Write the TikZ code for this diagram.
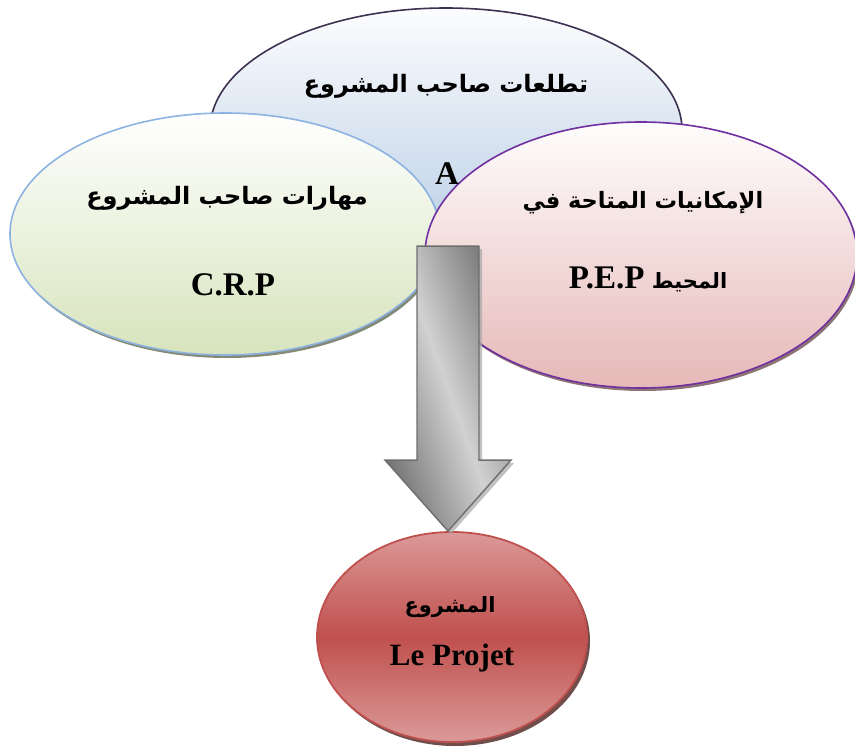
\documentclass[tikz,border=0pt]{standalone}
\usepackage{fontspec}
\setmainfont{Liberation Serif}
\newfontfamily\arabicfont[Script=Arabic]{DejaVu Sans}
\TeXXeTstate=1
\usetikzlibrary{shapes.geometric,shadows,calc}
\definecolor{topline}{HTML}{3F3151}
\definecolor{topfill}{HTML}{B9CDE5}
\definecolor{greenline}{HTML}{8DB3E2}
\definecolor{greenfill}{HTML}{D7E4BD}
\definecolor{pinkline}{HTML}{7030A0}
\definecolor{pinkfill}{HTML}{E6B9B8}
\definecolor{redline}{HTML}{C0504D}
\definecolor{redlight}{HTML}{DA9A99}
\definecolor{arrline}{HTML}{6E6E6E}
\tikzset{
  oval/.style={ellipse, inner sep=0pt, line width=1.6pt},
  artext/.style={font=\arabicfont\bfseries\fontsize{24}{28}\selectfont, inner sep=0pt},
  latext/.style={font=\bfseries\fontsize{33}{38}\selectfont, inner sep=0pt},
  arrowbox/.style={draw=arrline, line width=1.4pt,
    left color=black!55, right color=black!55, middle color=black!18, shading angle=-70,
    drop shadow={shadow xshift=3pt, shadow yshift=-3pt, fill=black!35, opacity=0.7}},
  redshade/.style={top color=redlight, bottom color=redlight, middle color=redline}
}
\begin{document}
\begin{tikzpicture}[x=1pt,y=-1pt]
\useasboundingbox (0,0) rectangle (855,747);
% top ellipse
\node[oval, draw=topline, minimum width=472pt, minimum height=244pt, top color=white!96!topfill, bottom color=topfill] (aspir) at (446,130) {};
% left ellipse
\node[oval, draw=greenline, minimum width=430pt, minimum height=242pt, top color=white, bottom color=greenfill,
  drop shadow={shadow xshift=2pt, shadow yshift=-3pt, fill=black!45!greenfill, opacity=0.9}] (skills) at (225,234) {};
% right ellipse
\node[oval, draw=pinkline, minimum width=432pt, minimum height=266pt, top color=white!97!pinkfill, bottom color=pinkfill,
  drop shadow={shadow xshift=2pt, shadow yshift=-3pt, fill=black!45!pinkfill, opacity=0.9}] (env) at (641,255) {};
% bottom ellipse
\node[oval, draw=redline, line width=1.8pt, minimum width=270pt, minimum height=210pt, redshade,
  drop shadow={shadow xshift=3pt, shadow yshift=-4pt, fill=black!60!redline, opacity=0.8}] (proj) at (452,637) {};
% arrow from overlap to project
\coordinate (tip) at ($(proj.north)+(-4,0)$);
\path[arrowbox] ($(tip)+(-31,-285)$) -- ($(tip)+(31,-285)$) -- ($(tip)+(31,-71)$) -- ($(tip)+(63,-71)$) -- (tip)
  -- ($(tip)+(-63,-71)$) -- ($(tip)+(-31,-71)$) -- cycle;
% texts
\node[artext] (t1) at (446,86) {\beginR تطلعات صاحب المشروع\endR};
\node[latext] (a) at (447,174) {A};
\node[artext] (t2) at (227,198) {\beginR مهارات صاحب المشروع\endR};
\node[latext] (crp) at (233,285) {C.R.P};
\node[artext, font=\arabicfont\bfseries\fontsize{22.5}{27}\selectfont] (t3) at (643,203) {\beginR الإمكانيات المتاحة في\endR};
\node[artext, anchor=base, font=\arabicfont\bfseries\fontsize{21}{25}\selectfont] (t4) at (648,288) {\beginR المحيط \beginL{\fontspec{Liberation Serif}\bfseries\fontsize{33}{38}\selectfont P.E.P}\endL\endR};
\node[artext, font=\arabicfont\bfseries\fontsize{21}{25}\selectfont] (t5) at (450,607) {\beginR المشروع\endR};
\node[latext, font=\bfseries\fontsize{31}{36}\selectfont] (lp) at (452,658) {Le Projet};
\end{tikzpicture}
\end{document}
